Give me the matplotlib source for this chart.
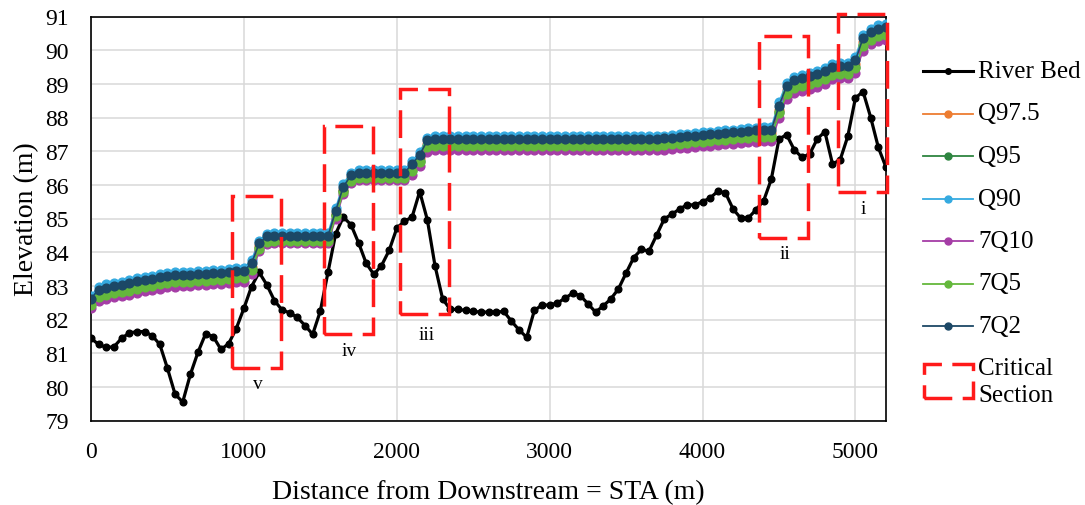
import numpy as np
import matplotlib.pyplot as plt
from matplotlib.lines import Line2D
from matplotlib.patches import Rectangle

plt.rcParams['font.family'] = ['Liberation Serif', 'DejaVu Serif']

# stations every 50 m
sta = np.arange(0, 5201, 50)

river_bed = [
    81.44, 81.26, 81.17, 81.19, 81.44, 81.60, 81.64, 81.64, 81.52, 81.26,
    80.55, 79.78, 79.55, 80.37, 81.03, 81.58, 81.49, 81.11, 81.28, 81.73,
    82.33, 82.98, 83.40, 83.03, 82.56, 82.28, 82.20, 82.06, 81.82, 81.56,
    82.25, 83.40, 84.54, 85.04, 84.82, 84.28, 83.67, 83.34, 83.60, 84.05,
    84.71, 84.92, 85.04, 85.80, 84.96, 83.60, 82.61, 82.30, 82.30, 82.27,
    82.24, 82.22, 82.22, 82.22, 82.24, 81.95, 81.69, 81.47, 82.27, 82.43,
    82.43, 82.49, 82.63, 82.78, 82.71, 82.47, 82.22, 82.40, 82.61, 82.91,
    83.38, 83.84, 84.08, 84.03, 84.51, 84.99, 85.13, 85.28, 85.41, 85.40,
    85.50, 85.61, 85.81, 85.76, 85.28, 85.01, 85.02, 85.26, 85.53, 86.17,
    87.36, 87.49, 87.04, 86.82, 86.91, 87.36, 87.58, 86.62, 86.74, 87.44,
    88.58, 88.77, 88.00, 87.11, 86.52]

q975 = [
    82.52, 82.78, 82.84, 82.88, 82.91, 82.96, 83.02, 83.07, 83.10, 83.14,
    83.18, 83.20, 83.22, 83.22, 83.23, 83.24, 83.26, 83.28, 83.30, 83.32,
    83.33, 83.56, 84.18, 84.39, 84.40, 84.40, 84.40, 84.40, 84.40, 84.40,
    84.40, 84.40, 85.14, 85.86, 86.20, 86.27, 86.27, 86.27, 86.27, 86.27,
    86.27, 86.27, 86.52, 86.79, 87.22, 87.26, 87.26, 87.26, 87.26, 87.26,
    87.26, 87.26, 87.26, 87.26, 87.26, 87.26, 87.26, 87.26, 87.26, 87.26,
    87.26, 87.26, 87.26, 87.26, 87.26, 87.26, 87.26, 87.26, 87.26, 87.26,
    87.26, 87.26, 87.26, 87.26, 87.26, 87.28, 87.30, 87.32, 87.34, 87.36,
    87.38, 87.40, 87.42, 87.44, 87.46, 87.48, 87.50, 87.52, 87.53, 87.53,
    88.23, 88.81, 88.98, 89.04, 89.10, 89.17, 89.25, 89.38, 89.41, 89.41,
    89.58, 90.24, 90.42, 90.52, 90.56]

q95 = [
    82.46, 82.71, 82.77, 82.81, 82.84, 82.89, 82.95, 83.00, 83.03, 83.07,
    83.11, 83.13, 83.15, 83.15, 83.16, 83.17, 83.19, 83.21, 83.23, 83.25,
    83.26, 83.49, 84.13, 84.34, 84.35, 84.35, 84.35, 84.35, 84.35, 84.35,
    84.35, 84.35, 85.09, 85.81, 86.15, 86.22, 86.22, 86.22, 86.22, 86.22,
    86.22, 86.22, 86.45, 86.72, 87.15, 87.19, 87.19, 87.19, 87.19, 87.19,
    87.19, 87.19, 87.19, 87.19, 87.19, 87.19, 87.19, 87.19, 87.19, 87.19,
    87.19, 87.19, 87.19, 87.19, 87.19, 87.19, 87.19, 87.19, 87.19, 87.19,
    87.19, 87.19, 87.19, 87.19, 87.19, 87.21, 87.23, 87.25, 87.27, 87.29,
    87.31, 87.33, 87.35, 87.37, 87.39, 87.41, 87.43, 87.45, 87.46, 87.46,
    88.15, 88.73, 88.90, 88.96, 89.02, 89.09, 89.17, 89.30, 89.33, 89.33,
    89.50, 90.16, 90.34, 90.44, 90.48]

q90 = [
    82.70, 82.98, 83.04, 83.08, 83.11, 83.16, 83.22, 83.27, 83.30, 83.34,
    83.38, 83.40, 83.42, 83.42, 83.43, 83.44, 83.46, 83.48, 83.50, 83.52,
    83.53, 83.76, 84.34, 84.55, 84.56, 84.56, 84.56, 84.56, 84.56, 84.56,
    84.56, 84.56, 85.30, 86.02, 86.36, 86.43, 86.43, 86.43, 86.43, 86.43,
    86.43, 86.43, 86.70, 86.97, 87.40, 87.44, 87.44, 87.44, 87.44, 87.44,
    87.44, 87.44, 87.44, 87.44, 87.44, 87.44, 87.44, 87.44, 87.44, 87.44,
    87.44, 87.44, 87.44, 87.44, 87.44, 87.44, 87.44, 87.44, 87.44, 87.44,
    87.44, 87.44, 87.44, 87.44, 87.44, 87.46, 87.48, 87.50, 87.52, 87.54,
    87.56, 87.58, 87.60, 87.62, 87.64, 87.66, 87.68, 87.70, 87.71, 87.71,
    88.45, 89.03, 89.20, 89.26, 89.32, 89.39, 89.47, 89.60, 89.63, 89.63,
    89.80, 90.46, 90.64, 90.74, 90.78]

q7q10 = [
    82.35, 82.56, 82.62, 82.66, 82.69, 82.74, 82.80, 82.85, 82.88, 82.92,
    82.96, 82.98, 83.00, 83.00, 83.01, 83.02, 83.04, 83.06, 83.08, 83.10,
    83.11, 83.34, 84.04, 84.25, 84.26, 84.26, 84.26, 84.26, 84.26, 84.26,
    84.26, 84.26, 85.00, 85.72, 86.06, 86.13, 86.13, 86.13, 86.13, 86.13,
    86.13, 86.13, 86.28, 86.55, 86.98, 87.02, 87.02, 87.02, 87.02, 87.02,
    87.02, 87.02, 87.02, 87.02, 87.02, 87.02, 87.02, 87.02, 87.02, 87.02,
    87.02, 87.02, 87.02, 87.02, 87.02, 87.02, 87.02, 87.02, 87.02, 87.02,
    87.02, 87.02, 87.02, 87.02, 87.02, 87.04, 87.06, 87.08, 87.10, 87.12,
    87.14, 87.16, 87.18, 87.20, 87.22, 87.24, 87.26, 87.28, 87.29, 87.29,
    87.98, 88.56, 88.73, 88.79, 88.85, 88.92, 89.00, 89.13, 89.16, 89.16,
    89.33, 89.99, 90.17, 90.27, 90.31]

q7q5 = [
    82.43, 82.68, 82.74, 82.78, 82.81, 82.86, 82.92, 82.97, 83.00, 83.04,
    83.08, 83.10, 83.12, 83.12, 83.13, 83.14, 83.16, 83.18, 83.20, 83.22,
    83.23, 83.46, 84.10, 84.31, 84.32, 84.32, 84.32, 84.32, 84.32, 84.32,
    84.32, 84.32, 85.06, 85.78, 86.12, 86.19, 86.19, 86.19, 86.19, 86.19,
    86.19, 86.19, 86.42, 86.69, 87.12, 87.16, 87.16, 87.16, 87.16, 87.16,
    87.16, 87.16, 87.16, 87.16, 87.16, 87.16, 87.16, 87.16, 87.16, 87.16,
    87.16, 87.16, 87.16, 87.16, 87.16, 87.16, 87.16, 87.16, 87.16, 87.16,
    87.16, 87.16, 87.16, 87.16, 87.16, 87.18, 87.20, 87.22, 87.24, 87.26,
    87.28, 87.30, 87.32, 87.34, 87.36, 87.38, 87.40, 87.42, 87.43, 87.43,
    88.12, 88.70, 88.87, 88.93, 88.99, 89.06, 89.14, 89.27, 89.30, 89.30,
    89.47, 90.13, 90.31, 90.41, 90.45]

q7q2 = [
    82.62, 82.89, 82.95, 82.99, 83.02, 83.07, 83.13, 83.18, 83.21, 83.25,
    83.29, 83.31, 83.33, 83.33, 83.34, 83.35, 83.37, 83.39, 83.41, 83.43,
    83.44, 83.67, 84.26, 84.47, 84.48, 84.48, 84.48, 84.48, 84.48, 84.48,
    84.48, 84.48, 85.22, 85.94, 86.28, 86.35, 86.35, 86.35, 86.35, 86.35,
    86.35, 86.35, 86.62, 86.89, 87.32, 87.36, 87.36, 87.36, 87.36, 87.36,
    87.36, 87.36, 87.36, 87.36, 87.36, 87.36, 87.36, 87.36, 87.36, 87.36,
    87.36, 87.36, 87.36, 87.36, 87.36, 87.36, 87.36, 87.36, 87.36, 87.36,
    87.36, 87.36, 87.36, 87.36, 87.36, 87.38, 87.40, 87.42, 87.44, 87.46,
    87.48, 87.50, 87.52, 87.54, 87.56, 87.58, 87.60, 87.62, 87.63, 87.63,
    88.35, 88.93, 89.10, 89.16, 89.22, 89.29, 89.37, 89.50, 89.53, 89.53,
    89.70, 90.36, 90.54, 90.64, 90.68]

# critical sections (extent in STA / elevation)
sec_names = ['v', 'iv', 'iii', 'ii', 'i']
sec_x0 = [920, 1521, 2021, 4369, 4883]
sec_x1 = [1243, 1843, 2344, 4692, 5204]
sec_y0 = [80.55, 81.56, 82.17, 84.41, 85.78]
sec_y1 = [85.68, 87.76, 88.86, 90.43, 91.07]
sec_label_y = [80.09, 81.08, 81.55, 83.95, 85.30]

flows = [q975, q95, q90, q7q10, q7q5, q7q2]
flow_names = ['Q97.5', 'Q95', 'Q90', '7Q10', '7Q5', '7Q2']
flow_colors = ['#ED7D31', '#2E8540', '#35AAE0', '#A53DA6', '#64B83C', '#1C4866']

RED = '#FF1A1A'
DASH = (0, (8, 3))

W, H = 1085, 506
fig = plt.figure(figsize=(W / 100, H / 100), dpi=100)
ax = fig.add_axes([91 / W, 1 - 421.5 / H, 795 / W, 404 / H])

ax.plot(sta, river_bed, '-o', color='black', lw=2.3, ms=4.8, zorder=3)
for vals, c in zip(flows, flow_colors):
    ax.plot(sta, vals, '-o', color=c, lw=1.2, ms=6.3, zorder=3)

for x0, x1, y0, y1, name, ly in zip(sec_x0, sec_x1, sec_y0, sec_y1, sec_names, sec_label_y):
    ax.add_patch(Rectangle((x0, y0), x1 - x0, y1 - y0, fill=False, ec=RED,
                           lw=2.5, ls=DASH, clip_on=False, zorder=6))
    ax.text((x0 + x1) / 2 + 10, ly, name, ha='center', va='center', fontsize=14)

ax.set_xlim(0, 5200)
ax.set_ylim(79, 91)
ax.set_xticks(range(0, 5001, 1000))
ax.set_yticks(range(79, 92))
ax.grid(True, color='#d9d9d9', lw=1.1)
ax.set_axisbelow(True)
ax.tick_params(length=0, labelsize=17)
ax.tick_params(axis='y', pad=16)
ax.tick_params(axis='x', pad=15)
for s in ax.spines.values():
    s.set_linewidth(1.2)
    s.set_color('black')

ax.set_xlabel('Distance from Downstream = STA (m)', fontsize=20, labelpad=12)
ax.set_ylabel('Elevation (m)', fontsize=20, labelpad=4)

# legend, drawn by hand at the right side
def fx(px):
    return px / W

def fy(py):
    return 1 - py / H

rows = [72, 114.5, 157, 199.5, 242, 284.5, 327]
leg_names = ['River Bed'] + flow_names
leg_colors = ['black'] + flow_colors
for i, (name, c) in enumerate(zip(leg_names, leg_colors)):
    lw = 2.2 if i == 0 else 1.3
    ms = 4 if i == 0 else 5
    fig.add_artist(Line2D([fx(923), fx(948), fx(973)], [fy(rows[i])] * 3,
                          color=c, lw=lw, marker='o', ms=ms, markevery=[1]))
    fig.text(fx(978), fy(rows[i]), name, fontsize=18, va='center', ha='left')

fig.add_artist(Rectangle((fx(924), fy(399)), fx(49), 34 / H, fill=False, ec=RED,
                         lw=2.5, ls=DASH, transform=fig.transFigure))
fig.text(fx(978), fy(382.5), 'Critical\nSection', fontsize=18, va='center',
         ha='left', linespacing=1.35)

fig.savefig('out.png', dpi=100)
